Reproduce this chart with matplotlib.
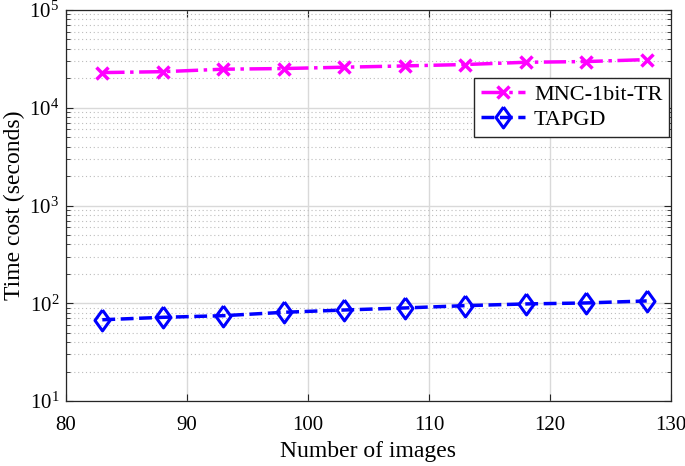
import numpy as np
import matplotlib
matplotlib.use("Agg")
import matplotlib.pyplot as plt
from matplotlib.ticker import LogLocator, NullFormatter

plt.rcParams['font.family'] = ['Liberation Serif', 'DejaVu Serif']
plt.rcParams['mathtext.fontset'] = 'stix'

# data
n_images = [83, 88, 93, 98, 103, 108, 113, 118, 123, 128]
mnc_1bit_tr = [22900, 23400, 24800, 25200, 26000, 26800, 27700, 29200, 29700, 31100]
tapgd = [67.8, 71.8, 74.6, 80.8, 85.3, 89.5, 94.5, 98.4, 100.7, 105.6]

# a diamond a bit wider than matplotlib's thin 'd'
diamond = [(0, 1), (0.72, 0), (0, -1), (-0.72, 0), (0, 1)]

fig = plt.figure(figsize=(6.85, 4.66), dpi=100)
ax = fig.add_axes([0.0964, 0.1395, 0.883, 0.839])

ax.semilogy(n_images, mnc_1bit_tr, color='#ff00ff', linestyle='-.', linewidth=2.5,
            marker='x', markersize=8, markeredgewidth=2.5, label='MNC-1bit-TR')
ax.semilogy(n_images, tapgd, color='#0000ff', linestyle='--', linewidth=2.5,
            marker=diamond, markersize=15, markeredgewidth=2.2, markerfacecolor='none',
            label='TAPGD')

ax.set_xlim(80, 130)
ax.set_ylim(10, 1e5)
ax.set_xticks([80, 90, 100, 110, 120, 130])
ax.yaxis.set_major_locator(LogLocator(base=10, numticks=10))
ax.yaxis.set_minor_locator(LogLocator(base=10, subs=np.arange(2, 10), numticks=20))
ax.yaxis.set_minor_formatter(NullFormatter())

ax.grid(True, which='major', color='#d9d9d9', linewidth=1, linestyle='-')
ax.grid(True, which='minor', axis='y', color='#bdbdbd', linewidth=0.8, linestyle=(0, (1, 2.5)))
ax.set_axisbelow(True)

ax.tick_params(which='both', direction='in', top=True, right=True, labelsize=15,
               colors='#262626')
ax.tick_params(axis='x', pad=11)
ax.tick_params(axis='y', pad=5)
ax.tick_params(which='major', length=5)
ax.tick_params(which='minor', length=3)
ax.tick_params(axis='both', labelcolor='black')
for s in ax.spines.values():
    s.set_color('#262626')
    s.set_linewidth(0.9)

ax.set_xlabel('Number of images', fontsize=17, labelpad=4)
ax.set_ylabel('Time cost (seconds)', fontsize=17, labelpad=3)

leg = ax.legend(loc='upper right', bbox_to_anchor=(0.997, 0.826), fontsize=16,
                fancybox=False, framealpha=1, edgecolor='#262626',
                handlelength=2.0, handletextpad=0.4, borderpad=0.3, labelspacing=0.2,
                borderaxespad=0)
leg.get_frame().set_linewidth(1.0)

fig.savefig('out.png', dpi=100)
